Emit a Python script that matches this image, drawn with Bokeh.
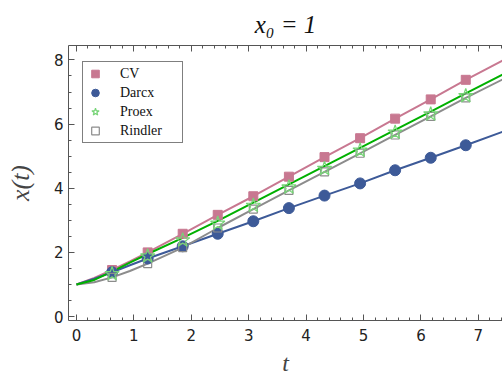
from bokeh.plotting import figure
from bokeh.models import Range1d, LinearAxis, Legend, LegendItem, SingleIntervalTicker, CustomJSTickFormatter
from bokeh.embed import file_html
from bokeh.resources import INLINE

# ---- data ----
t_line = [0, 0.31, 0.62, 0.93, 1.24, 1.85, 2.46, 3.08, 3.70, 4.32, 4.94, 5.55, 6.17, 6.78, 7.42]
cv_line = [1.0, 1.2, 1.45, 1.72, 2.0, 2.58, 3.17, 3.75, 4.36, 4.97, 5.56, 6.17, 6.77, 7.38, 7.98]
darcx_line = [1.0, 1.18, 1.38, 1.6, 1.81, 2.19, 2.58, 2.97, 3.38, 3.77, 4.15, 4.56, 4.95, 5.34, 5.76]
proex_line = [1.0, 1.14, 1.40, 1.68, 1.95, 2.45, 2.98, 3.55, 4.12, 4.69, 5.26, 5.82, 6.39, 6.96, 7.54]
rindler_line = [1.0, 1.07, 1.22, 1.42, 1.65, 2.15, 2.76, 3.35, 3.93, 4.51, 5.09, 5.66, 6.24, 6.82, 7.39]

t_mark = [0.62, 1.24, 1.85, 2.46, 3.08, 3.70, 4.32, 4.94, 5.55, 6.17, 6.78]
cv_mark = [1.45, 2.0, 2.58, 3.17, 3.75, 4.36, 4.97, 5.56, 6.17, 6.77, 7.38]
darcx_mark = [1.38, 1.81, 2.19, 2.58, 2.97, 3.38, 3.77, 4.15, 4.56, 4.95, 5.34]
proex_mark = [1.33, 1.88, 2.38, 2.90, 3.46, 4.03, 4.61, 5.18, 5.74, 6.31, 6.88]
rindler_mark = [1.22, 1.65, 2.15, 2.76, 3.35, 3.93, 4.51, 5.09, 5.66, 6.24, 6.82]

series_names = ["CV", "Darcx", "Proex", "Rindler"]
title_text = "x\u2080 = 1"
x_label = "t"
y_label = "x(t)"

CV_C = "#c87891"
DA_C = "#3d5a98"
PR_C = "#00b000"
PR_M = "#77d477"
RI_C = "#8c8c8c"

serif = "Liberation Serif"
sans = "DejaVu Sans"

p = figure(width=502, height=381, output_backend="svg", toolbar_location=None,
           x_range=Range1d(-0.139, 7.42), y_range=Range1d(-0.124, 8.45),
           min_border_left=68, min_border_right=0, min_border_top=44, min_border_bottom=61,
           x_axis_location=None, y_axis_location=None, title=title_text)
p.outline_line_color = None
p.xgrid.visible = False
p.ygrid.visible = False
p.background_fill_color = "white"
p.border_fill_color = "white"

p.title.align = "center"
p.title.text_font = serif
p.title.text_font_style = "italic"
p.title.text_font_size = "25px"
p.title.text_color = "#111111"
p.title.offset = 6
p.title.standoff = 16

def style_axis(ax):
    ax.axis_line_color = "#555555"
    ax.major_tick_line_color = "#555555"
    ax.minor_tick_line_color = "#555555"
    ax.major_tick_in = 6
    ax.major_tick_out = 0
    ax.minor_tick_in = 3
    ax.minor_tick_out = 0
    ax.major_label_text_font = sans
    ax.major_label_text_font_size = "15px"
    ax.major_label_text_color = "#222222"

xt = SingleIntervalTicker(interval=1, num_minor_ticks=5)
yt = SingleIntervalTicker(interval=2, num_minor_ticks=4)

xb = LinearAxis(ticker=xt, axis_label=x_label)
style_axis(xb)
xb.major_label_standoff = 8
xb.axis_label_text_font = serif
xb.axis_label_text_font_style = "italic"
xb.axis_label_text_font_size = "24px"
xb.axis_label_standoff = 6
p.add_layout(xb, "below")

xa = LinearAxis(ticker=SingleIntervalTicker(interval=1, num_minor_ticks=5),
                formatter=CustomJSTickFormatter(code="return ''"))
style_axis(xa)
xa.major_label_text_font_size = "1px"
xa.major_label_standoff = 0
p.add_layout(xa, "above")

yl = LinearAxis(ticker=yt, axis_label=y_label)
style_axis(yl)
yl.major_label_standoff = 5
yl.axis_label_text_font = serif
yl.axis_label_text_font_style = "italic"
yl.axis_label_text_font_size = "26px"
yl.axis_label_standoff = 16
p.add_layout(yl, "left")

# lines
p.line(t_line, cv_line, line_color=CV_C, line_width=2)
p.line(t_line, darcx_line, line_color=DA_C, line_width=2)
p.line(t_line, rindler_line, line_color=RI_C, line_width=2)
p.line(t_line, proex_line, line_color=PR_C, line_width=2)

# markers
r_cv = p.scatter(t_mark, cv_mark, marker="square", size=9, fill_color=CV_C, line_color=CV_C)
r_da = p.scatter(t_mark, darcx_mark, marker="circle", size=11, fill_color=DA_C, line_color=DA_C)
r_ri = p.scatter(t_mark, rindler_mark, marker="square", size=8, fill_color=None, line_color=RI_C, line_width=1.2)
r_pr = p.scatter(t_mark, proex_mark, marker="star", size=15, fill_color=None, line_color=PR_M, line_width=1.2)

legend = Legend(items=[
    LegendItem(label=series_names[0], renderers=[r_cv]),
    LegendItem(label=series_names[1], renderers=[r_da]),
    LegendItem(label=series_names[2], renderers=[r_pr]),
    LegendItem(label=series_names[3], renderers=[r_ri]),
], location=(14, 177))
legend.border_line_color = "black"
legend.border_line_width = 1
legend.background_fill_color = "white"
legend.background_fill_alpha = 1
legend.label_text_font = serif
legend.label_text_font_size = "14px"
legend.label_text_color = "#111111"
legend.glyph_width = 20
legend.glyph_height = 19
legend.label_height = 19
legend.label_width = 60
legend.label_standoff = 15
legend.spacing = 0
legend.padding = 2
legend.margin = 0
p.add_layout(legend, "center")

open("out.html", "w").write(file_html(p, INLINE))
